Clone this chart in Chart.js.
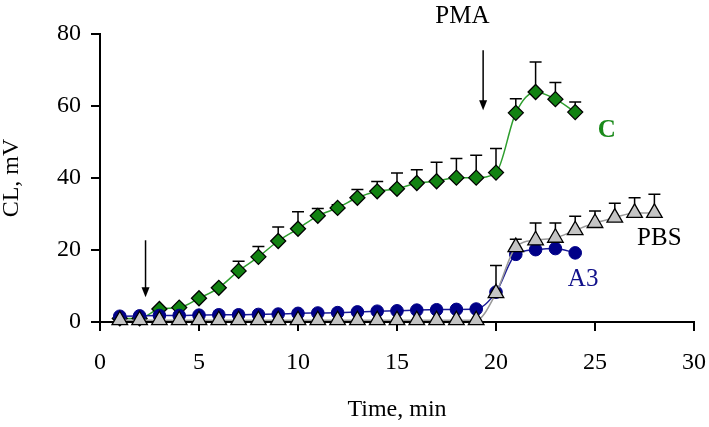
<!DOCTYPE html>
<html>
<head>
    <title>CL kinetics</title>
    <style>
        body {
            margin: 0;
            padding: 0;
            background: #fff;
        }
    </style>
</head>
<body>
    <canvas id="chart" width="709" height="427"></canvas>
    <script src="https://cdn.jsdelivr.net/npm/chart.js"></script>
    <script>
        // time points, min
        var timeC = [1, 2, 3, 4, 5, 6, 7, 8, 9, 10, 11, 12, 13, 14, 15, 16, 17, 18, 19, 20, 21, 22, 23, 24];
        var timeA3 = [1, 2, 3, 4, 5, 6, 7, 8, 9, 10, 11, 12, 13, 14, 15, 16, 17, 18, 19, 20, 21, 22, 23, 24];
        var timePBS = [1, 2, 3, 4, 5, 6, 7, 8, 9, 10, 11, 12, 13, 14, 15, 16, 17, 18, 19, 20, 21, 22, 23, 24, 25, 26, 27, 28];

        // CL, mV
        var valuesC = [1.0, 1.0, 3.6, 4.0, 6.6, 9.5, 14.2, 18.1, 22.5, 25.9, 29.5, 31.7, 34.5, 36.3, 37.0, 38.6, 39.1, 40.1, 40.1, 41.5, 58.1, 63.9, 61.9, 58.3];
        var valuesA3 = [1.6, 1.7, 1.8, 1.8, 1.9, 2.0, 2.0, 2.1, 2.2, 2.4, 2.5, 2.6, 2.8, 3.0, 3.1, 3.3, 3.4, 3.5, 3.6, 8.3, 18.8, 20.1, 20.4, 19.2];
        var valuesPBS = [0.5, 0.5, 0.5, 0.5, 0.5, 0.5, 0.5, 0.5, 0.5, 0.5, 0.5, 0.5, 0.5, 0.5, 0.5, 0.5, 0.5, 0.5, 0.5, 8.0, 20.8, 22.7, 23.4, 25.5, 27.5, 29.0, 30.3, 30.3];

        // upper end of the error bars (null = no bar)
        var errTopC = [null, null, null, null, null, null, 16.9, 21.0, 26.4, 30.6, 31.5, 32.6, 36.8, 39.0, 41.4, 42.3, 44.4, 45.4, 46.3, 48.2, 62.0, 72.2, 66.5, 61.1];
        var errTopPBS = [null, null, null, null, null, null, null, null, null, null, null, null, null, null, null, null, null, null, null, 15.7, 23.0, 27.5, 27.5, 29.4, 30.8, 33.0, 34.5, 35.5];

        var xTicks = [0, 5, 10, 15, 20, 25, 30];
        var yTicks = [0, 20, 40, 60, 80];

        function toPoints(xs, ys) {
            return xs.map(function(x, i) { return { x: x, y: ys[i] }; });
        }

        var serif = "'Liberation Serif', 'Times New Roman', serif";

        // error bars go under the markers
        var errorBars = {
            id: 'errorBars',
            beforeDatasetsDraw: function(chart) {
                var ctx = chart.ctx;
                var xs = chart.scales.x, ys = chart.scales.y;
                ctx.save();
                ctx.strokeStyle = '#000';
                ctx.lineWidth = 1.5;
                chart.data.datasets.forEach(function(ds) {
                    if (!ds.errTop) return;
                    ds.data.forEach(function(p, i) {
                        var top = ds.errTop[i];
                        if (top === null || top === undefined) return;
                        var px = xs.getPixelForValue(p.x);
                        var py = ys.getPixelForValue(p.y);
                        var pt = ys.getPixelForValue(top);
                        ctx.beginPath();
                        ctx.moveTo(px, py);
                        ctx.lineTo(px, pt);
                        ctx.moveTo(px - 6, pt);
                        ctx.lineTo(px + 6, pt);
                        ctx.stroke();
                    });
                });
                ctx.restore();
            }
        };

        // arrows and series labels
        var notes = {
            id: 'notes',
            afterDatasetsDraw: function(chart) {
                var ctx = chart.ctx;
                var xs = chart.scales.x, ys = chart.scales.y;
                function arrow(x, y1, y2) {
                    var px = xs.getPixelForValue(x);
                    var p1 = ys.getPixelForValue(y1);
                    var p2 = ys.getPixelForValue(y2);
                    ctx.strokeStyle = '#000';
                    ctx.fillStyle = '#000';
                    ctx.lineWidth = 1.5;
                    ctx.beginPath();
                    ctx.moveTo(px, p1);
                    ctx.lineTo(px, p2 - 8);
                    ctx.stroke();
                    ctx.beginPath();
                    ctx.moveTo(px - 4, p2 - 10);
                    ctx.lineTo(px + 4, p2 - 10);
                    ctx.lineTo(px, p2);
                    ctx.closePath();
                    ctx.fill();
                }
                function label(text, x, y, color, bold) {
                    ctx.fillStyle = color;
                    ctx.font = (bold ? 'bold ' : '') + '25px ' + serif;
                    ctx.textAlign = 'center';
                    ctx.textBaseline = 'middle';
                    ctx.fillText(text, xs.getPixelForValue(x), ys.getPixelForValue(y));
                }
                ctx.save();
                arrow(2.3, 22.7, 6.9);
                arrow(19.35, 75.5, 58.8);
                label('PMA', 18.3, 84.9, '#000', false);
                label('C', 25.6, 53.3, '#1a8a1a', true);
                label('PBS', 28.25, 23.1, '#000', false);
                label('A3', 24.4, 11.9, '#10108a', false);
                ctx.restore();
            }
        };

        var chart = new Chart(document.getElementById('chart'), {
            type: 'line',
            data: {
                datasets: [{
                    label: 'PBS',
                    data: toPoints(timePBS, valuesPBS),
                    errTop: errTopPBS,
                    order: 0,
                    borderColor: '#9a9a9a',
                    borderWidth: 1.5,
                    pointStyle: 'triangle',
                    pointRadius: 9,
                    pointBackgroundColor: '#c4c4c4',
                    pointBorderColor: '#000',
                    pointBorderWidth: 1.3,
                    cubicInterpolationMode: 'monotone',
                    clip: false
                }, {
                    label: 'A3',
                    data: toPoints(timeA3, valuesA3),
                    order: 1,
                    borderColor: '#1a1a96',
                    borderWidth: 1.5,
                    pointStyle: 'circle',
                    pointRadius: 6.3,
                    pointBackgroundColor: '#000088',
                    pointBorderColor: '#000088',
                    pointBorderWidth: 1,
                    cubicInterpolationMode: 'monotone',
                    clip: false
                }, {
                    label: 'C',
                    data: toPoints(timeC, valuesC),
                    errTop: errTopC,
                    order: 2,
                    borderColor: '#2e9e2e',
                    borderWidth: 1.5,
                    pointStyle: 'rectRot',
                    pointRadius: 7.5,
                    pointBackgroundColor: '#128212',
                    pointBorderColor: '#000',
                    pointBorderWidth: 1.3,
                    cubicInterpolationMode: 'monotone',
                    clip: false
                }]
            },
            options: {
                responsive: false,
                animation: false,
                layout: {
                    padding: { top: 34, right: 15, bottom: 0, left: 0 }
                },
                plugins: {
                    legend: { display: false },
                    tooltip: { enabled: false }
                },
                scales: {
                    x: {
                        type: 'linear',
                        min: 0,
                        max: 30,
                        afterBuildTicks: function(axis) {
                            axis.ticks = xTicks.map(function(v) { return { value: v }; });
                        },
                        afterFit: function(axis) { axis.height = 105; },
                        border: { color: '#000', width: 2 },
                        grid: { drawOnChartArea: false, color: '#000', lineWidth: 2, tickLength: 9 },
                        // tall line height pushes the labels down without widening the side padding
                        ticks: { color: '#000', padding: 3, font: { family: serif, size: 24, lineHeight: 2.4 }, maxRotation: 0 },
                        title: {
                            display: true,
                            text: 'Time, min',
                            color: '#000',
                            font: { family: serif, size: 24 },
                            padding: { top: 2.6, bottom: 2.6 }
                        }
                    },
                    y: {
                        min: 0,
                        max: 80,
                        afterBuildTicks: function(axis) {
                            axis.ticks = yTicks.map(function(v) { return { value: v }; });
                        },
                        afterFit: function(axis) { axis.width = 100; },
                        border: { color: '#000', width: 2 },
                        grid: { drawOnChartArea: false, color: '#000', lineWidth: 2, tickLength: 9 },
                        ticks: { color: '#000', padding: 10, font: { family: serif, size: 24 } },
                        title: {
                            display: true,
                            text: 'CL, mV',
                            color: '#000',
                            font: { family: serif, size: 24, lineHeight: 1 },
                            padding: { top: 0, bottom: 0 }
                        }
                    }
                }
            },
            plugins: [errorBars, notes]
        });
    </script>
</body>
</html>
